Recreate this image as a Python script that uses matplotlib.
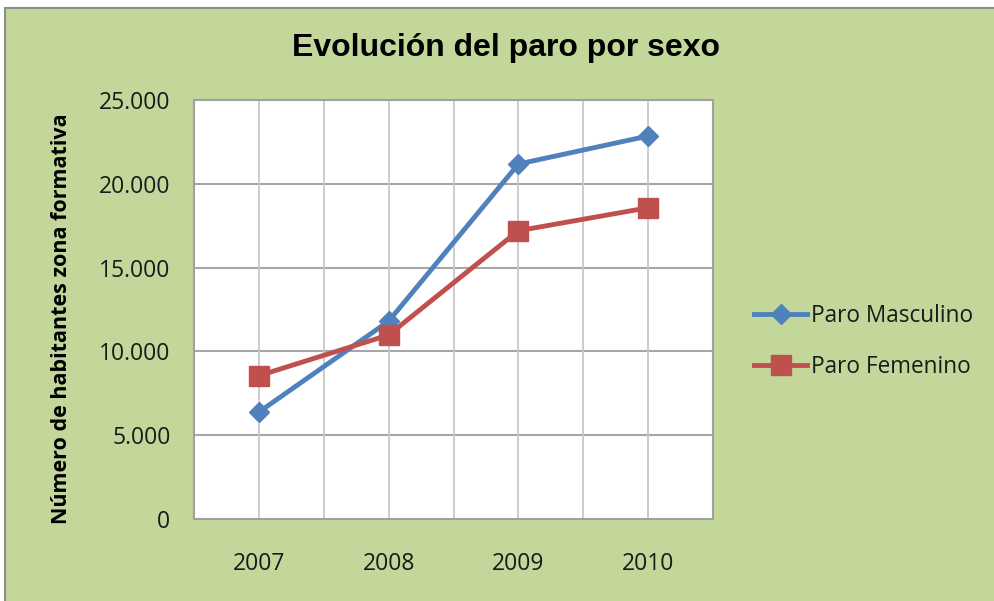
import matplotlib
matplotlib.use("Agg")
import matplotlib.pyplot as plt
from matplotlib.patches import Rectangle
from matplotlib.ticker import FuncFormatter, MultipleLocator

years = ["2007", "2008", "2009", "2010"]
paro_masculino = [6380, 11800, 21180, 22850]
paro_femenino = [8550, 10980, 17200, 18570]
series_names = ["Paro Masculino", "Paro Femenino"]

W, H = 994, 601
fig = plt.figure(figsize=(W / 100, H / 100), dpi=100)
fig.patch.set_facecolor("white")

# outer chart frame
frame = Rectangle((5 / W, -0.1), 1.2, 1.1 - 8 / H, transform=fig.transFigure,
                  facecolor="#c4d79b", edgecolor="#8c8c8c", linewidth=1.5, zorder=-5)
fig.add_artist(frame)

ax = fig.add_axes([194 / W, 1 - 519 / H, (713 - 194) / W, (519 - 100) / H])
ax.set_zorder(2)
ax.set_facecolor("white")

xs = [i + 0.5 for i in range(len(years))]
ax.plot(xs, paro_masculino, color="#4f81bd", linewidth=3.5, marker="D", markersize=10,
        label=series_names[0], zorder=3)
ax.plot(xs, paro_femenino, color="#c0504d", linewidth=3.5, marker="s", markersize=14,
        label=series_names[1], zorder=3)

ax.set_xlim(0, 4)
ax.set_ylim(0, 25000)
ax.yaxis.set_major_locator(MultipleLocator(5000))
ax.yaxis.set_major_formatter(FuncFormatter(lambda v, p: f"{int(v):,}".replace(",", ".")))
ax.set_xticks(xs)
ax.set_xticklabels(years)

for v in [5000, 10000, 15000, 20000]:
    ax.axhline(v, color="#a6a6a6", linewidth=1.5, zorder=1)
for g in [0.5 * k for k in range(1, 8)]:
    ax.axvline(g, color="#c8c8c8", linewidth=1.3, zorder=1)

for s in ax.spines.values():
    s.set_color("#a0a0a0")
    s.set_linewidth(1.5)

tick_font = "Open Sans"
ax.tick_params(axis="both", length=0, labelsize=16.5)
ax.tick_params(axis="y", pad=17)
ax.tick_params(axis="x", pad=24)
for lab in ax.get_xticklabels() + ax.get_yticklabels():
    lab.set_fontfamily(tick_font)
    lab.set_color("#1a1a1a")

ax.set_ylabel("Número de habitantes zona formativa", fontsize=15.5, fontweight="bold",
              fontfamily="Open Sans")
ax.yaxis.set_label_coords((72 - 194) / (713 - 194), 0.477)

fig.text(506 / W, 1 - 48 / H, "Evolución del paro por sexo", ha="center", va="center",
         fontsize=23, fontweight="bold", fontfamily="Liberation Sans", color="black")

leg = fig.legend(loc="upper left", bbox_to_anchor=(754 / W, 1 - 304 / H),
                 frameon=False, handlelength=2.35, handletextpad=0.18,
                 borderpad=0, borderaxespad=0,
                 labelspacing=1.2, prop={"family": "Open Sans", "size": 16.3})
for t in leg.get_texts():
    t.set_color("#1a1a1a")

fig.savefig("out.png", dpi=100)
